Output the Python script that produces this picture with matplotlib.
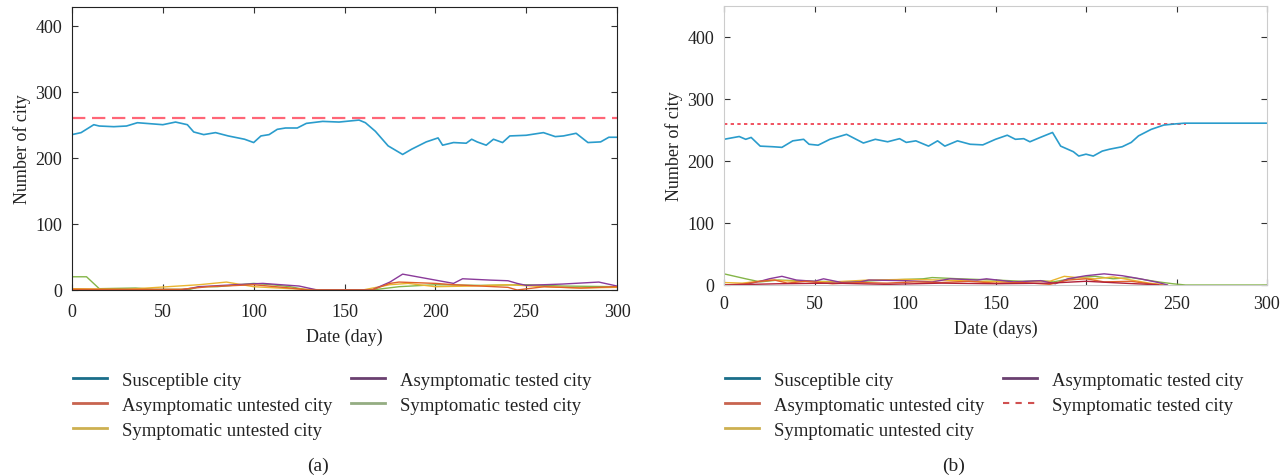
import matplotlib
matplotlib.use("Agg")
import matplotlib.pyplot as plt
from matplotlib.lines import Line2D

plt.rcParams["font.family"] = ["Liberation Serif", "DejaVu Serif"]

# ---- panel (a) ----
a_sus_day = [0, 5, 12, 15, 23, 30, 36, 50, 57, 63.5, 67, 72.5, 79, 86, 95, 100, 104, 108.5,
             113, 117.5, 124, 129, 138, 147, 158, 161.5, 167, 174, 182, 187, 195, 201.5, 204,
             210, 217, 220, 223, 228, 232, 237, 241, 250, 259.5, 266, 270.5, 277.5, 284, 291,
             295.5, 300]
a_sus_val = [235, 238, 250, 248, 247, 248, 253, 250, 254, 250, 239, 235, 238, 233, 228, 223,
             233, 235, 243, 245, 245, 252, 255, 254, 257, 253, 240, 218, 205, 213, 224, 230,
             219, 223, 222, 228, 224, 219, 228, 223, 233, 234, 238, 232, 233, 237, 223, 224,
             231, 231]

a_green_day = [0, 8, 15, 35, 45, 65, 70, 80, 100, 110, 120, 130, 165, 180, 200, 225, 250, 270, 300]
a_green_val = [20, 20, 2, 3, 1, 1, 5, 5, 10, 8, 5, 0, 0, 5, 8, 7, 8, 6, 5]
a_purple_day = [0, 60, 70, 90, 105, 125, 135, 165, 175, 182, 190, 200, 210, 215, 230, 240,
                245, 250, 260, 270, 290, 300]
a_purple_val = [0, 0, 5, 8, 10, 6, 0, 0, 12, 24, 20, 15, 10, 17, 15, 14, 10, 7, 8, 9, 12, 6]
a_orange_day = [0, 60, 75, 100, 120, 130, 165, 175, 180, 200, 210, 240, 245, 260, 280, 300]
a_orange_val = [1, 1, 5, 8, 3, 0, 0, 10, 12, 10, 8, 4, 0, 5, 3, 5]
a_yellow_day = [0, 30, 70, 85, 100, 120, 140, 160, 175, 185, 200, 220, 240, 260, 280, 300]
a_yellow_val = [2, 1, 8, 12, 5, 2, 0, 0, 8, 10, 5, 6, 8, 5, 3, 4]
a_ref = 260

# ---- panel (b) ----
b_sus_day = [0, 8.4, 12, 15, 20, 27, 32, 38, 44, 47, 52, 58.5, 67.7, 73, 77, 83.6, 90.4, 97,
             100.7, 106, 113, 118, 122, 129, 136, 143, 150, 156.5, 161, 165.6, 169, 174.7,
             181.5, 186, 193, 196, 200, 204, 209, 213, 220, 225, 229, 236, 243, 250, 254.5, 300]
b_sus_val = [235, 239.5, 235, 238, 224, 223, 222, 232.5, 235, 227, 225.5, 235, 243, 235, 229,
             235, 231, 236, 230, 232.5, 224, 232.5, 224, 232.5, 227, 226, 235, 241.6, 235, 236,
             231, 238, 246, 224, 215, 208, 211, 208, 216, 219, 223, 230, 240.5, 251, 258, 260,
             261, 261]

b_green_day = [0, 12, 20, 30, 50, 70, 90, 110, 115, 130, 150, 165, 175, 182, 195, 205, 215,
               225, 240, 248, 255, 300]
b_green_val = [18, 10, 5, 8, 6, 5, 8, 10, 12, 10, 8, 6, 7, 5, 12, 14, 10, 12, 5, 2, 0, 0]
b_purple_day = [0, 10, 20, 25, 32, 40, 50, 55, 65, 75, 80, 100, 115, 125, 140, 145, 160,
                175, 183, 190, 200, 210, 220, 230, 240, 245]
b_purple_val = [0, 0, 6, 10, 14, 8, 6, 10, 4, 5, 8, 7, 5, 10, 8, 10, 5, 7, 2, 10, 15, 18,
                15, 10, 4, 0]
b_yellow_day = [0, 10, 25, 40, 60, 80, 100, 120, 140, 160, 180, 188, 195, 205, 215, 225, 235, 245]
b_yellow_val = [4, 3, 8, 6, 5, 8, 9, 8, 6, 5, 6, 14, 12, 10, 13, 8, 3, 0]
b_orange_day = [0, 12, 20, 28, 35, 45, 60, 75, 90, 105, 120, 135, 150, 165, 180, 190, 200,
                210, 225, 235, 242]
b_orange_val = [0, 2, 6, 8, 3, 6, 2, 4, 3, 5, 4, 6, 3, 4, 1, 8, 10, 5, 6, 2, 0]
b_red_day = [0, 30, 60, 90, 120, 150, 180, 200, 220, 235, 240]
b_red_val = [0, 2, 3, 1, 3, 2, 3, 6, 3, 1, 0]
b_ref = 260
b_ref_end = 255

xticks = [0, 50, 100, 150, 200, 250, 300]
yticks = [0, 100, 200, 300, 400]
legend_labels = ["Susceptible city", "Asymptomatic untested city", "Symptomatic untested city",
                 "Asymptomatic tested city", "Symptomatic tested city"]

C_BLUE = "#2a9ccc"
C_ORANGE = "#e0622a"
C_YELLOW = "#eab530"
C_PURPLE = "#8a3a9a"
C_GREEN = "#84b548"
C_RED = "#b0203a"

fig = plt.figure(figsize=(12.88, 4.77), dpi=100)
ax_a = fig.add_axes([72 / 1288, 1 - 291 / 477, 545 / 1288, 283 / 477])
ax_b = fig.add_axes([724 / 1288, 1 - 286 / 477, 543 / 1288, 279 / 477])

lw = 1.0
ax_a.plot(a_green_day, a_green_val, color=C_GREEN, lw=lw)
ax_a.plot(a_yellow_day, a_yellow_val, color=C_YELLOW, lw=lw)
ax_a.plot(a_purple_day, a_purple_val, color=C_PURPLE, lw=lw)
ax_a.plot(a_orange_day, a_orange_val, color=C_ORANGE, lw=lw)
ax_a.plot(a_sus_day, a_sus_val, color=C_BLUE, lw=1.2)
ax_a.plot([0, 300], [a_ref, a_ref], color="#ff6677", lw=1.6, dashes=(6, 3))

ax_b.plot(b_green_day, b_green_val, color=C_GREEN, lw=lw)
ax_b.plot(b_yellow_day, b_yellow_val, color=C_YELLOW, lw=lw)
ax_b.plot(b_purple_day, b_purple_val, color=C_PURPLE, lw=lw)
ax_b.plot(b_orange_day, b_orange_val, color=C_ORANGE, lw=lw)
ax_b.plot(b_red_day, b_red_val, color=C_RED, lw=lw)
ax_b.plot([0, b_ref_end], [b_ref, b_ref], color="#ee3344", lw=1.2, dashes=(2, 2))
ax_b.plot(b_sus_day, b_sus_val, color=C_BLUE, lw=1.2)

for ax, top, frame, xpad in [(ax_a, 428, "#222222", 9.5), (ax_b, 450, "#cccccc", 7.5)]:
    ax.set_xlim(0, 300)
    ax.set_ylim(0, top)
    ax.set_xticks(xticks)
    ax.set_yticks(yticks)
    ax.tick_params(direction="in", top=True, right=True, labelsize=13, length=4,
                   color="#333333", labelcolor="#222222")
    ax.tick_params(axis="x", pad=xpad)
    ax.tick_params(axis="y", pad=7)
    for s in ax.spines.values():
        s.set_color(frame)
        s.set_linewidth(0.8)
    ax.set_ylabel("Number of city", fontsize=13, color="#222222", labelpad=3)

ax_a.set_xlabel("Date (day)", fontsize=13, color="#222222", labelpad=5.5)
ax_b.set_xlabel("Date (days)", fontsize=13, color="#222222", labelpad=5)

leg_a = [Line2D([], [], color="#1a6e8a", lw=2), Line2D([], [], color="#c8644f", lw=2),
         Line2D([], [], color="#cdb050", lw=2), Line2D([], [], color="#6a4070", lw=2),
         Line2D([], [], color="#94ad82", lw=2)]
leg_b = leg_a[:4] + [Line2D([], [], color="#d05050", lw=1.5, ls=(0, (3, 3)))]

for handles, x0 in [(leg_a, 56), (leg_b, 708)]:
    fig.legend(handles, legend_labels, loc="upper left", bbox_to_anchor=(x0 / 1288, 1 - 356 / 477),
               ncol=2, frameon=False, fontsize=13.5, handlelength=1.8, handletextpad=0.8,
               labelspacing=0.42, columnspacing=1.0, labelcolor="#222222")

fig.text(318 / 1288, 1 - 466 / 477, "(a)", fontsize=14, ha="center", va="center", color="#222222")
fig.text(954 / 1288, 1 - 466 / 477, "(b)", fontsize=14, ha="center", va="center", color="#222222")

fig.savefig("out.png", dpi=100)
